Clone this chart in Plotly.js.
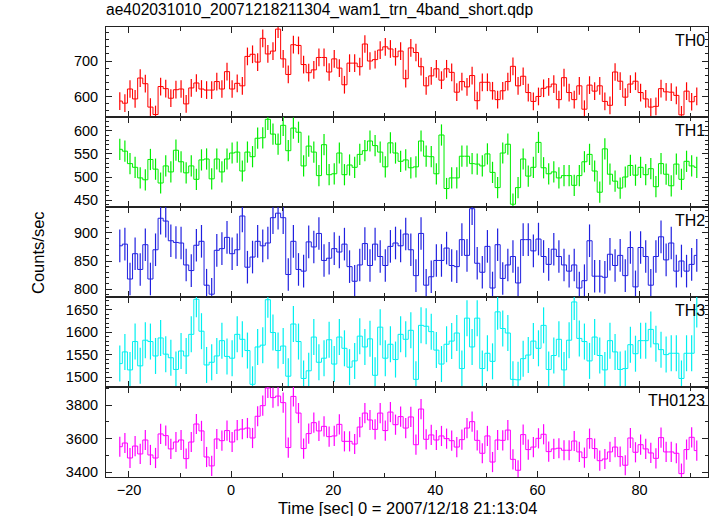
<!DOCTYPE html>
<html>
<head>
<meta charset="utf-8">
<script src="https://cdn.plot.ly/plotly-3.0.1.min.js"></script>
<style>html,body{margin:0;padding:0;background:#fff;}#chart{width:717px;height:516px;}</style>
</head>
<body>
<div id="chart"></div>
<script>
// Time axis of the light curves: 1-s bins, first bin centre (s from 2007/12/18 21:13:04)
const binStart = -21.8;
const binWidth = 1;

const bandNames = ["TH0", "TH1", "TH2", "TH3", "TH0123"];

const th0 = [587,581,621,593,652,636,570,549,628,622,595,619,621,579,624,638,621,618,618,642,
  621,670,621,637,630,713,719,697,764,720,728,790,706,662,746,744,690,667,675,710,
  710,669,706,680,633,694,694,684,748,700,704,731,740,734,712,728,650,
  737,724,684,630,658,678,646,678,668,612,642,627,659,588,640,640,616,591,616,642,
  685,630,657,611,586,600,623,627,635,591,653,611,591,630,564,632,615,630,586,575,
  669,643,598,635,643,611,593,570,572,622,613,612,603,548,615,585,600];

const th1 = [560,556,529,521,498,494,538,517,487,524,511,558,533,509,524,495,537,539,496,539,
  511,539,552,554,513,554,544,584,585,625,593,571,612,557,606,597,524,567,554,503,
  570,505,507,552,505,526,521,549,557,578,568,554,522,574,552,534,537,
  520,522,578,545,544,507,591,475,498,498,545,545,529,528,524,550,510,477,552,571,
  441,477,539,502,521,575,520,507,511,498,503,503,482,503,533,549,513,467,561,506,
  491,476,500,525,504,521,505,518,479,529,506,481,528,495,534,524,521];

const th2 = [877,880,818,863,835,879,818,870,926,921,886,883,882,843,833,878,885,807,791,869,
  872,892,863,870,930,839,857,885,877,882,927,935,927,826,885,835,832,884,875,899,
  851,855,872,866,880,840,814,843,881,842,880,858,842,876,882,877,898,
  870,824,899,807,822,851,851,873,842,840,888,860,943,846,830,876,802,879,819,843,
  858,811,888,888,868,889,858,844,871,858,843,832,843,802,815,886,823,823,821,862,
  842,860,824,874,804,874,858,807,858,893,852,882,832,850,832,844,860];

const th3 = [1530,1556,1516,1579,1525,1582,1579,1547,1587,1551,1543,1517,1558,1547,1595,1673,1602,1527,1533,1547,
  1581,1546,1542,1595,1584,1559,1484,1567,1571,1672,1599,1559,1569,1502,1618,1579,1497,1514,1589,1533,
  1542,1583,1529,1589,1564,1522,1536,1591,1567,1585,1504,1611,1542,1573,1539,1595,1584,
  1604,1495,1615,1613,1601,1560,1529,1573,1580,1598,1519,1631,1567,1631,1519,1553,1535,1645,1608,1598,
  1495,1494,1541,1549,1580,1564,1615,1517,1548,1584,1516,1582,1667,1586,1579,1536,1589,1548,1516,1581,
  1556,1517,1519,1572,1552,1581,1581,1606,1574,1561,1550,1553,1553,1497,1553,1553,1650];

const th0123 = [3552,3574,3485,3556,3509,3592,3503,3485,3628,3618,3539,3580,3592,3481,3580,3687,3646,3491,3438,3598,
  3588,3648,3580,3651,3657,3663,3604,3733,3796,3901,3844,3853,3814,3547,3851,3752,3541,3630,3695,3646,
  3673,3612,3616,3685,3584,3584,3568,3669,3752,3711,3655,3752,3648,3758,3683,3731,3663,
  3729,3564,3776,3596,3622,3592,3616,3600,3588,3550,3594,3663,3701,3590,3513,3616,3461,3592,3590,3651,
  3477,3412,3624,3535,3550,3602,3626,3523,3539,3543,3531,3531,3586,3521,3487,3600,3541,3469,3479,3521,
  3550,3493,3442,3604,3519,3564,3539,3515,3483,3606,3521,3521,3513,3392,3535,3608,3529];

// typical 1-sigma error bar half length read per band (counts/sec)
const errTH0 = 25, errTH1 = 23, errTH2 = 29, errTH3 = 40, errTH0123 = 60;

// y tick labels per band
const ticksTH0 = [600, 700];
const ticksTH1 = [450, 500, 550, 600];
const ticksTH2 = [800, 850, 900];
const ticksTH3 = [1500, 1550, 1600, 1650];
const ticksTH0123 = [3400, 3600, 3800];

const series = [th0, th1, th2, th3, th0123];
const errs = [errTH0, errTH1, errTH2, errTH3, errTH0123];
const ticks = [ticksTH0, ticksTH1, ticksTH2, ticksTH3, ticksTH0123];
const ranges = [[542, 796], [435, 630], [786, 946], [1478, 1678], [3372, 3907]];
const minorDt = [20, 10, 10, 10, 100];
const colors = ["#ff0000", "#00ee00", "#2020e0", "#00f0f0", "#ff00ff"];

const fam = "Liberation Sans, Arial, Helvetica, sans-serif";
const font = {family: fam, size: 14.5, color: "#000"};
const titleFont = {family: fam, size: 16.5, color: "#000"};
const axisCol = "#222";

const traces = [];
const layout = {
  width: 717, height: 516,
  margin: {l: 106, r: 9, t: 27, b: 39, pad: 0},
  paper_bgcolor: "#fff", plot_bgcolor: "#fff",
  showlegend: false,
  font: font,
  title: {text: "ae402031010_20071218211304_wam1_trn_4band_short.qdp",
          x: 0, xref: "paper", xanchor: "left", y: 1, yref: "container", yanchor: "top", pad: {t: 4},
          font: {family: fam, size: 15.6, color: "#000"}},
  annotations: []
};

for (let i = 0; i < 5; i++) {
  const k = i + 1;
  const xa = "x" + (k === 1 ? "" : k), ya = "y" + (k === 1 ? "" : k);
  traces.push({
    type: "scatter", mode: "lines",
    x0: binStart, dx: binWidth, y: series[i],
    xaxis: xa, yaxis: ya,
    line: {color: colors[i], width: 1, shape: "hvh"},
    error_y: {type: "constant", value: errs[i], visible: true, color: colors[i], thickness: 1.2, width: 0}
  });
  const top = 1 - i * 0.2, bot = 1 - (i + 1) * 0.2;
  layout["xaxis" + (k === 1 ? "" : k)] = {
    domain: [0, 1], anchor: ya, range: [-24.5, 93.4],
    dtick: 20, tick0: 0, ticks: "inside", ticklen: 6, tickcolor: axisCol, tickwidth: 1,
    minor: {dtick: 10, ticks: "inside", ticklen: 4, tickcolor: axisCol},
    showline: true, linecolor: axisCol, linewidth: 1, mirror: "allticks",
    showgrid: false, zeroline: false,
    showticklabels: i === 4,
    tickfont: font,
    matches: k === 1 ? undefined : "x"
  };
  layout["yaxis" + (k === 1 ? "" : k)] = {
    domain: [bot, top], anchor: xa, range: ranges[i],
    tickvals: ticks[i], ticks: "inside", ticklen: 6, tickcolor: axisCol, tickwidth: 1,
    minor: {dtick: minorDt[i], ticks: "inside", ticklen: 3, tickcolor: axisCol},
    showline: true, linecolor: axisCol, linewidth: 1, mirror: "allticks",
    showgrid: false, zeroline: false, tickfont: font, ticklabelstandoff: 4
  };
  layout.annotations.push({
    text: bandNames[i], xref: "paper", yref: "paper", x: 0.998, y: top - 0.006,
    xanchor: "right", yanchor: "top", showarrow: false,
    font: {family: fam, size: 16, color: "#000"}
  });
}
layout.annotations.push({
  text: "Counts/sec", xref: "paper", yref: "paper", x: -0.113, y: 0.5,
  xanchor: "center", yanchor: "middle", textangle: -90, showarrow: false, font: titleFont
});
layout.annotations.push({
  text: "Time [sec] 0 = 2007/12/18 21:13:04", xref: "paper", yref: "paper", x: 0.5, y: -0.068,
  xanchor: "center", yanchor: "middle", showarrow: false, font: titleFont, borderpad: 0
});

Plotly.newPlot("chart", traces, layout, {staticPlot: true, displayModeBar: false});
</script>
</body>
</html>
